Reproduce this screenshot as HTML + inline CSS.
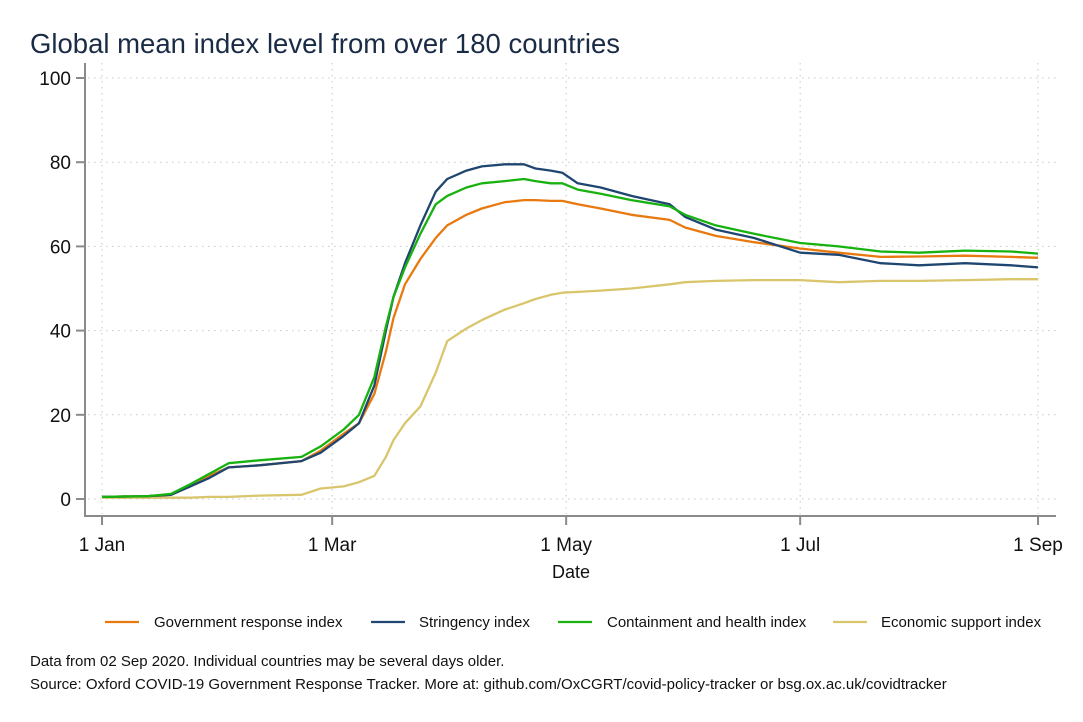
<!DOCTYPE html>
<html><head><meta charset="utf-8"><style>
body{margin:0;background:#fff;font-family:"Liberation Sans",sans-serif}
svg{display:block}
</style></head><body>
<svg id="chart" width="1083" height="722" font-family="Liberation Sans, sans-serif">
<text x="30" y="53" font-size="27.5" fill="#1a2b45">Global mean index level from over 180 countries</text>
<g id="grid"></g>
<line x1="85" y1="63" x2="85" y2="516" stroke="#8a8a8a" stroke-width="2"/>
<line x1="84" y1="516" x2="1056" y2="516" stroke="#8a8a8a" stroke-width="2"/>
<g id="ticks"></g>
<g id="series"></g>
<text x="571" y="578" font-size="18" text-anchor="middle" fill="#111">Date</text>
<g id="legend"></g>
<text x="30" y="666" font-size="15" fill="#111">Data from 02 Sep 2020. Individual countries may be several days older.</text>
<text x="30" y="689" font-size="15" fill="#111">Source: Oxford COVID-19 Government Response Tracker. More at: github.com/OxCGRT/covid-policy-tracker or bsg.ox.ac.uk/covidtracker</text>
</svg>
<script>
const days=[0,12,18,23,28,33,41,52,57,63,67,71,74,76,79,83,87,90,95,99,105,110,113,117,120,124,130,138,148,152,160,170,182,192,203,213,225,237,244];
const govVals=[0.5,0.7,1,3,5.5,7.5,8,9,11.5,15.5,18,25,35,43,51,57,62,65,67.5,69,70.5,71,71,70.8,70.8,70,69,67.5,66.3,64.5,62.5,61,59.5,58.5,57.5,57.6,57.8,57.5,57.3];
const strVals=[0.5,0.7,1,3,5,7.5,8,9,11,15,18,27,40,48,56,65,73,76,78,79,79.5,79.5,78.5,78,77.5,75,74,72,70,67,64,62,58.5,58,56,55.5,56,55.5,55];
const conVals=[0.5,0.7,1.2,3.5,6,8.5,9.2,10,12.5,16.5,20,29,41,48,55,63,70,72,74,75,75.5,76,75.5,75,75,73.5,72.5,71,69.5,67.5,65,63,60.8,60,58.8,58.5,59,58.8,58.3];
const ecoVals=[0.3,0.3,0.3,0.3,0.5,0.5,0.8,1,2.5,3,4,5.5,10,14,18,22,30,37.5,40.5,42.5,45,46.5,47.5,48.5,49,49.2,49.5,50,51,51.5,51.8,52,52,51.5,51.8,51.8,52,52.2,52.2];
const yTicks=[0,20,40,60,80,100];
const xTickDays=[0,60,121,182,244];
const xTickLabels=["1 Jan","1 Mar","1 May","1 Jul","1 Sep"];
const seriesNames=["Government response index","Stringency index","Containment and health index","Economic support index"];
const NS="http://www.w3.org/2000/svg";
const xs=d=>102+d*(1038-102)/244;
const ys=v=>499-v*(499-78)/100;
function mk(t,a,p){const e=document.createElementNS(NS,t);for(const k in a)e.setAttribute(k,a[k]);p.appendChild(e);return e;}
const grid=document.getElementById('grid'),ticks=document.getElementById('ticks'),ser=document.getElementById('series'),leg=document.getElementById('legend');
yTicks.forEach(v=>{
 const g=mk('line',{x1:88,x2:1056,y1:ys(v),y2:ys(v),stroke:'#c8c8c8','stroke-dasharray':'1.5 4.5'},grid);
 
 
 const t=mk('line',{x1:76,x2:85,y1:ys(v),y2:ys(v),stroke:'#8a8a8a','stroke-width':2},ticks);
 
 
 const l=mk('text',{x:71,y:ys(v)+7,'font-size':19,'text-anchor':'end',fill:'#111'},ticks);l.textContent=v;
 
 
});
xTickDays.forEach((d,i)=>{
 const g=mk('line',{x1:xs(d),x2:xs(d),y1:63,y2:514,stroke:'#c8c8c8','stroke-dasharray':'1.5 4.5'},grid);
 
 
 const t=mk('line',{x1:xs(d),x2:xs(d),y1:516,y2:525,stroke:'#8a8a8a','stroke-width':2},ticks);
 
 
 const l=mk('text',{x:xs(d),y:551,'font-size':19,'text-anchor':'middle',fill:'#111'},ticks);l.textContent=xTickLabels[i];
 
 
});
const defs=[[ecoVals,'#d9c56b','economic-support-line'],[govVals,'#e8790f','government-response-line'],[strVals,'#1f4670','stringency-line'],[conVals,'#17b20f','containment-health-line']];
defs.forEach(([vals,c,n])=>{
 const p=mk('polyline',{points:days.map((d,i)=>xs(d).toFixed(1)+','+ys(vals[i]).toFixed(1)).join(' '),fill:'none',stroke:c,'stroke-width':2.3,'stroke-linejoin':'round'},ser);
 
 
});
const legX=[105,371,558,833],legT=[154,419,607,881],legC=['#e8790f','#1f4670','#17b20f','#d9c56b'];
seriesNames.forEach((s,i)=>{
 const g=mk('g',{},leg);
 
 
 mk('line',{x1:legX[i],x2:legX[i]+34,y1:622,y2:622,stroke:legC[i],'stroke-width':2.3},g);
 const t=mk('text',{x:legT[i],y:627,'font-size':15,fill:'#111'},g);t.textContent=s;
});
</script>
</body></html>
